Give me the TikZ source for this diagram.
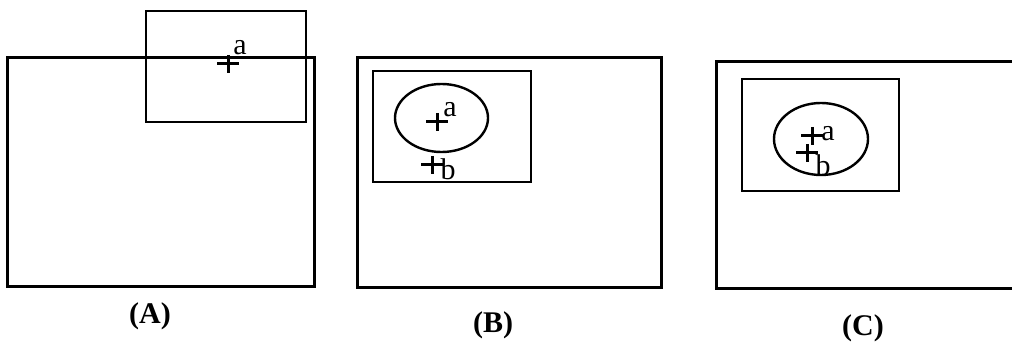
\documentclass[tikz,border=0pt]{standalone}
\usepackage{fontspec}
\setmainfont{Liberation Serif}
\usetikzlibrary{positioning,calc}
\tikzset{
  frame/.style={draw, line width=1.5pt},
  window/.style={draw, line width=1.2pt},
  region/.style={draw, line width=1.2pt},
  plus/.style={line width=1.5pt},
  ptlabel/.style={font=\fontsize{15}{16}\selectfont, inner sep=0pt},
  caption/.style={font=\bfseries\fontsize{15}{17}\selectfont}
}
\newcommand{\plusmark}[1]{%
  \draw[plus] ($(#1)+(-11,0)$) -- ($(#1)+(11,0)$)
              ($(#1)+(0,-9)$) -- ($(#1)+(0,9)$);}

\begin{document}
\begin{tikzpicture}[x=0.5pt,y=-0.5pt]
\useasboundingbox (0,0) rectangle (1012,347);
% (A)
\draw[frame] (7,58) rectangle (314,287);
\draw[window] (146,11) rectangle (306,122);
\coordinate (pA) at (228,64);
\plusmark{pA}
\node[ptlabel] (aA) at (240,48) {a};
\node[caption] (capA) at (150,316) {(A)};
% (B)
\draw[frame] (357,58) rectangle (661,288);
\draw[window] (373,71) rectangle (531,182);
\coordinate (eB) at (441.5,118);
\draw[region] (eB) ellipse [x radius=46.5, y radius=34];
\coordinate (pB) at (437,122);
\plusmark{pB}
\node[ptlabel] (aB) at (450,110) {a};
\coordinate (qB) at (432,165);
\plusmark{qB}
\node[ptlabel] (bB) at (448,169) {b};
\node[caption] (capB) at (493,325) {(B)};
% (C)
\draw[frame] (1014,62) -- (716,62) -- (716,289) -- (1014,289);
\draw[window] (742,79) rectangle (899,191);
\coordinate (eC) at (821,139);
\draw[region] (eC) ellipse [x radius=47, y radius=36];
\coordinate (pC) at (812,136);
\plusmark{pC}
\node[ptlabel] (aC) at (828,134) {a};
\coordinate (qC) at (807,153);
\plusmark{qC}
\node[ptlabel] (bC) at (823,165) {b};
\node[caption] (capC) at (863,328) {(C)};
\end{tikzpicture}
\end{document}
